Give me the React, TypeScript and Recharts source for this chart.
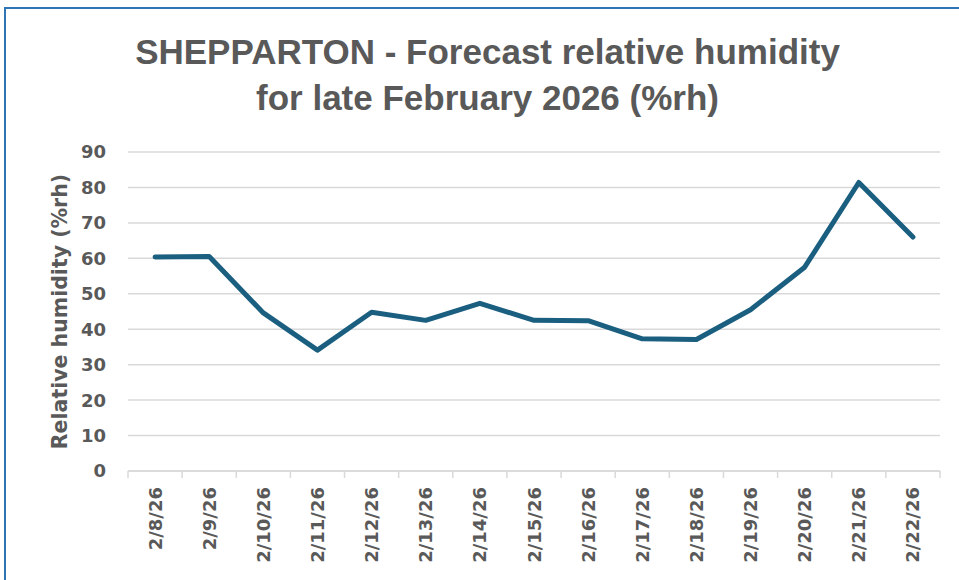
import React from 'react';
import { LineChart, Line, XAxis, YAxis, CartesianGrid } from 'recharts';

// dates along the x axis
const dates = [
  '2/8/26', '2/9/26', '2/10/26', '2/11/26', '2/12/26', '2/13/26', '2/14/26', '2/15/26',
  '2/16/26', '2/17/26', '2/18/26', '2/19/26', '2/20/26', '2/21/26', '2/22/26',
];

// forecast relative humidity (%rh)
const humidity = [60.4, 60.5, 44.6, 34.1, 44.8, 42.5, 47.3, 42.5, 42.4, 37.3, 37.1, 45.5, 57.5, 81.4, 66.0];

const yTicks = [0, 10, 20, 30, 40, 50, 60, 70, 80, 90];

const data = dates.map((d, i) => ({ date: d, rh: humidity[i] }));

const W = 959;
const H = 580;
const M = { top: 152, right: 19, left: 0, bottom: 0 };
const Y_W = 128;
const X_H = 109;
const BAND = (W - M.left - M.right - Y_W) / dates.length;

const TEXT = '#595959';
const GRID = '#d9d9d9';
const FONT = '"DejaVu Sans", sans-serif';

const DateTick = ({ x, y, index, payload }: any) => {
  const last = index === dates.length - 1;
  return (
    <g>
      <line x1={x - BAND / 2} y1={y} x2={x - BAND / 2} y2={y + 7} stroke={GRID} strokeWidth={1.5} />
      {last && <line x1={x + BAND / 2} y1={y} x2={x + BAND / 2} y2={y + 7} stroke={GRID} strokeWidth={1.5} />}
      <text
        x={x}
        y={y + 16}
        transform={`rotate(-90 ${x} ${y + 16})`}
        textAnchor="end"
        dominantBaseline="central"
        fill={TEXT}
        fontSize={18}
        fontWeight="bold"
        fontFamily={FONT}
      >
        {payload.value}
      </text>
    </g>
  );
};

export default function App() {
  return (
    <div style={{ position: 'absolute', left: 0, top: 0, width: W, height: H, overflow: 'hidden', background: '#fff' }}>
      {/* chart frame */}
      <div
        style={{
          position: 'absolute',
          left: 4,
          top: 7,
          width: 1000,
          height: 1000,
          border: '2px solid #2e75b6',
        }}
      />
      {/* title */}
      <div
        style={{
          position: 'absolute',
          left: 0,
          top: 29,
          width: 975,
          textAlign: 'center',
          fontFamily: '"Liberation Sans", Arial, sans-serif',
          fontWeight: 'bold',
          fontSize: 35,
          lineHeight: '46px',
          color: TEXT,
        }}
      >
        SHEPPARTON - Forecast relative humidity
        <br />
        for late February 2026 (%rh)
      </div>
      <div style={{ position: 'absolute', left: 0, top: 0 }}>
        <LineChart width={W} height={H} data={data} margin={M}>
          <CartesianGrid vertical={false} stroke={GRID} strokeWidth={1.5} />
          <XAxis
            dataKey="date"
            height={X_H}
            interval={0}
            padding={{ left: BAND / 2, right: BAND / 2 }}
            tickLine={false}
            tickSize={0}
            tickMargin={0}
            axisLine={{ stroke: GRID, strokeWidth: 1.5 }}
            tick={<DateTick />}
          />
          <YAxis
            width={Y_W}
            domain={[0, 90]}
            ticks={yTicks}
            interval={0}
            axisLine={false}
            tickLine={false}
            tickSize={0}
            tickMargin={22}
            tick={{ fill: TEXT, fontSize: 18, fontWeight: 'bold', fontFamily: FONT }}
            label={{
              value: 'Relative humidity (%rh)',
              angle: -90,
              position: 'center',
              dx: -4,
              fill: TEXT,
              fontSize: 20.5,
              fontWeight: 'bold',
              fontFamily: FONT,
            }}
          />
          <Line
            type="linear"
            dataKey="rh"
            stroke="#1b5f80"
            strokeWidth={5}
            strokeLinecap="round"
            strokeLinejoin="round"
            dot={false}
            activeDot={false}
            isAnimationActive={false}
          />
        </LineChart>
      </div>
    </div>
  );
}
